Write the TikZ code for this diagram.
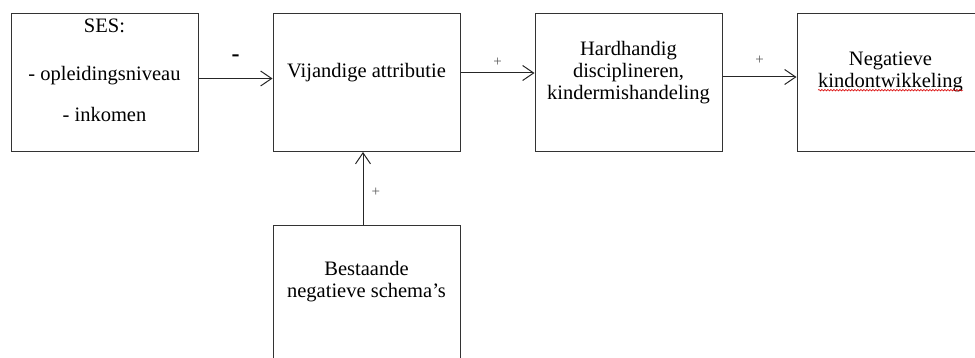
\documentclass[tikz,border=0pt]{standalone}
\usepackage{fontspec}
\setmainfont{Liberation Serif}
\usetikzlibrary{arrows.meta,positioning,decorations.pathmorphing}

\begin{document}
\begin{tikzpicture}[x=1pt,y=-1pt,>={Straight Barb[length=11pt,width=15pt]},node distance=74pt,
  box/.style={draw=black!80,line width=1pt,minimum width=187pt,minimum height=138pt,inner sep=0pt},
  boxtext/.style={align=center,inner sep=0pt,font=\fontsize{20.5}{22}\selectfont}]
  \useasboundingbox (0,0) rectangle (975,358);
  \clip (0,0) rectangle (975,358);

  \node[box]          (ses)                      at (104.5,82.5) {};
  \node[box]          (vij) [right =of ses]      {};
  \node[box]          (hard) [right =of vij]     {};
  \node[box]          (neg) [right =of hard]     {};
  \node[box]          (sch) [below =73pt of vij] {};

  \node[boxtext] (sestxt)  at ([yshift=12.5pt]ses.center)  {SES:\\[26pt]- opleidingsniveau\\[19pt]- inkomen};
  \node[boxtext] (vijtxt)  at ([yshift=9.5pt]vij.center)   {Vijandige attributie};
  \node[boxtext] (hardtxt) at ([yshift=9.5pt]hard.center)  {Hardhandig\\disciplineren,\\kindermishandeling};
  \node[boxtext] (negtxt)  at ([yshift=10.5pt]neg.center)  {Negatieve\\kindontwikkeling};
  \node[boxtext] (schtxt)  at ([yshift=13pt]sch.center)    {Bestaande\\negatieve schema’s};

\tikzset{conn/.style={->,draw=black!85,line width=1pt}}
\tikzset{sign/.style={inner sep=0pt,font=\fontsize{15}{15}\selectfont,text=black!65}}
\tikzset{spellmark/.style={draw=red!85!black,line width=0.6pt,decorate,decoration={snake,segment length=3pt,amplitude=0.8pt}}}
  \draw[conn] ([yshift=4pt]ses.east) -- node[above=16pt,inner sep=0pt,font=\fontsize{24}{24}\selectfont\bfseries] {-} ([yshift=4pt]vij.west);
  \draw[conn] ([yshift=9.5pt]vij.east) -- node[sign,above=6pt] {+} ([yshift=9.5pt]hard.west);
  \draw[conn] ([yshift=5.5pt]hard.east) -- node[sign,above=12pt] {+} ([yshift=5.5pt]neg.west);
  \draw[conn] ([xshift=-3.5pt]sch.north) -- node[sign,right=8pt,pos=0.45] {+} ([xshift=-3.5pt]vij.south);

  \draw[spellmark] ([yshift=2pt]negtxt.south west) -- ([yshift=2pt]negtxt.south east);
\end{tikzpicture}
\end{document}
